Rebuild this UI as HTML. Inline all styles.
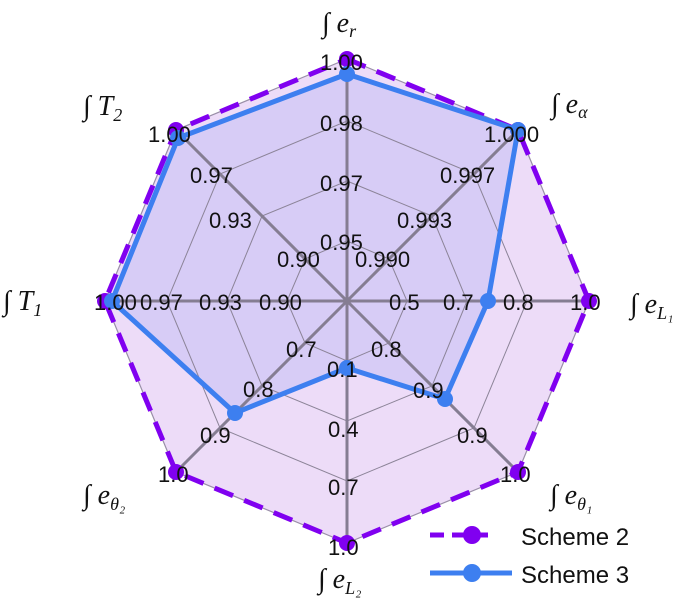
<!DOCTYPE html>
<html><head><meta charset="utf-8"><style>
body{margin:0;background:#fff;}
svg{display:block}
.n{font-family:"Liberation Sans",sans-serif;font-size:22px;fill:#111;}
.a{font-family:"Liberation Serif",serif;font-size:28px;fill:#111;font-style:italic;}
.l{font-family:"Liberation Sans",sans-serif;font-size:24px;fill:#111;}
</style></head><body>
<svg width="700" height="605" viewBox="0 0 700 605">
<polygon points="347,59 518,130 589,301 518,472 347,543 176,472 105,301 176,130" fill="#eddcf8" stroke="#9a8fa8" stroke-width="1.2"/>
<polygon points="347,74 518,130 488,301 445,399 347,368 235,413 112,301 178,138" fill="#d2c9f6" fill-opacity="0.85"/>
<g fill="none" stroke="#8c8498" stroke-width="1">
<polygon points="347,241 389,259 407,301 389,343 347,361 305,343 287,301 305,259"/>
<polygon points="347,181 432,216 467,301 432,386 347,421 262,386 227,301 262,216"/>
<polygon points="347,121 474,174 527,301 474,428 347,481 220,428 167,301 220,174"/>
</g>
<g stroke="#857d92" stroke-width="3">
<line x1="347" y1="301" x2="347" y2="59"/><line x1="347" y1="301" x2="518" y2="130"/>
<line x1="347" y1="301" x2="589" y2="301"/><line x1="347" y1="301" x2="518" y2="472"/>
<line x1="347" y1="301" x2="347" y2="543"/><line x1="347" y1="301" x2="176" y2="472"/>
<line x1="347" y1="301" x2="105" y2="301"/><line x1="347" y1="301" x2="176" y2="130"/>
</g>
<polygon points="347,59 518,130 589,301 518,472 347,543 176,472 105,301 176,130" fill="none" stroke="#8000f0" stroke-width="5" stroke-dasharray="20,12"/>
<g fill="#8000f0">
<circle cx="347" cy="59" r="8"/><circle cx="518" cy="130" r="8"/><circle cx="589" cy="301" r="8"/><circle cx="518" cy="472" r="8"/>
<circle cx="347" cy="543" r="8"/><circle cx="176" cy="472" r="8"/><circle cx="105" cy="301" r="8"/><circle cx="176" cy="130" r="8"/>
</g>
<polygon points="347,74 518,130 488,301 445,399 347,368 235,413 112,301 178,138" fill="none" stroke="#3d7ff0" stroke-width="5" stroke-linejoin="round"/>
<g fill="#3d7ff0">
<circle cx="347" cy="74" r="8"/><circle cx="518" cy="130" r="8"/><circle cx="488" cy="301" r="8"/><circle cx="445" cy="399" r="8"/>
<circle cx="347" cy="368" r="8"/><circle cx="235" cy="413" r="8"/><circle cx="112" cy="301" r="8"/><circle cx="178" cy="138" r="8"/>
</g>
<g class="n">
<text x="320" y="70">1.00</text><text x="320" y="131">0.98</text><text x="320" y="191">0.97</text><text x="320" y="250">0.95</text>
<text x="484" y="142">1.000</text><text x="440" y="183">0.997</text><text x="397" y="228">0.993</text><text x="355" y="267">0.990</text>
<text x="277" y="267">0.90</text><text x="209" y="228">0.93</text><text x="190" y="183">0.97</text><text x="148" y="142">1.00</text>
<text x="94" y="310">1.00</text><text x="140" y="310">0.97</text><text x="199" y="310">0.93</text><text x="259" y="310">0.90</text>
<text x="389" y="310">0.5</text><text x="443" y="310">0.7</text><text x="503" y="310">0.8</text><text x="570" y="310">1.0</text>
<text x="286" y="357">0.7</text><text x="327" y="377">0.1</text><text x="371" y="357">0.8</text>
<text x="243" y="397">0.8</text><text x="413" y="398">0.9</text><text x="200" y="443">0.9</text><text x="457" y="443">0.9</text>
<text x="328" y="437">0.4</text><text x="328" y="495">0.7</text>
<text x="158" y="482">1.0</text><text x="500" y="482">1.0</text><text x="328" y="555">1.0</text>
</g>
<g class="a">
<text x="322" y="32">∫ e<tspan font-size="18" dy="5">r</tspan></text>
<text x="551" y="113">∫ e<tspan font-size="18" dy="5">α</tspan></text>
<text x="630" y="313">∫ e<tspan font-size="18" dy="6">L₁</tspan></text>
<text x="550" y="504">∫ e<tspan font-size="18" dy="6">θ₁</tspan></text>
<text x="318" y="588">∫ e<tspan font-size="18" dy="6">L₂</tspan></text>
<text x="83" y="504">∫ e<tspan font-size="18" dy="6">θ₂</tspan></text>
<text x="3" y="310">∫ T<tspan font-size="18" dy="6">1</tspan></text>
<text x="83" y="115">∫ T<tspan font-size="18" dy="6">2</tspan></text>
</g>
<line x1="430" y1="535" x2="490" y2="535" stroke="#8000f0" stroke-width="5" stroke-dasharray="14,8"/>
<circle cx="472" cy="535" r="9" fill="#8000f0"/>
<line x1="430" y1="573" x2="512" y2="573" stroke="#3d7ff0" stroke-width="5"/>
<circle cx="472" cy="573" r="9" fill="#3d7ff0"/>
<text class="l" x="521" y="545">Scheme 2</text>
<text class="l" x="521" y="583">Scheme 3</text>
</svg>
</body></html>
